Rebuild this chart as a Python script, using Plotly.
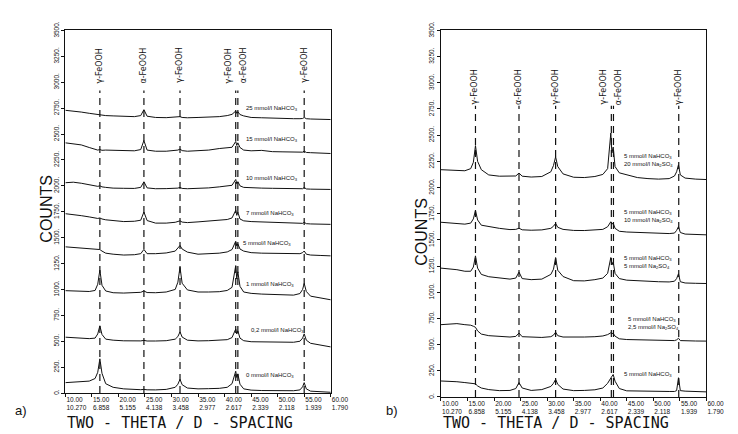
import plotly.graph_objects as go

# ---------------- data ----------------
xticks = [10, 15, 20, 25, 30, 35, 40, 45, 50, 55, 60]
xticktext = ["10.00<br>10.270", "15.00<br>6.858", "20.00<br>5.155", "25.00<br>4.138",
             "30.00<br>3.458", "35.00<br>2.977", "40.00<br>2.617", "45.00<br>2.339",
             "50.00<br>2.118", "55.00<br>1.939", "60.00<br>1.790"]
yticks = [0, 250, 500, 750, 1000, 1250, 1500, 1750, 2000, 2250, 2500, 2750, 3000, 3250, 3500]
yticktext = ["0.", "250.", "500.", "750.", "1000.", "1250.", "1500.", "1750.", "2000.",
             "2250.", "2500.", "2750.", "3000.", "3250.", "3500."]

# panel a: two-theta grid and patterns
tt_a = [10, 11.5, 13, 14.5, 15.6, 16.1, 16.5, 16.9, 17.6, 19, 21, 23, 24.2, 24.8, 25.4, 27, 29,
        30.7, 31.2, 31.6, 32.0, 33, 35, 37, 39, 40.5, 41.4, 42.1, 42.3, 42.5, 42.9, 43.6, 45,
        47, 49, 51, 53, 54.2, 54.7, 55.0, 55.4, 56.2, 58, 60]
a_25 = [2729, 2722, 2712, 2700, 2690, 2685, 2688, 2682, 2678, 2675, 2672, 2668, 2678, 2735, 2672,
        2660, 2658, 2660, 2662, 2668, 2660, 2657, 2660, 2662, 2668, 2678, 2690, 2722, 2700, 2715,
        2688, 2675, 2660, 2657, 2652, 2650, 2648, 2648, 2650, 2660, 2648, 2645, 2642, 2640]
a_15 = [2415, 2405, 2395, 2370, 2350, 2345, 2350, 2343, 2345, 2345, 2342, 2338, 2350, 2437, 2345,
        2334, 2334, 2338, 2345, 2355, 2340, 2334, 2338, 2345, 2360, 2365, 2372, 2428, 2390, 2415,
        2370, 2345, 2338, 2342, 2330, 2328, 2325, 2322, 2325, 2335, 2322, 2320, 2315, 2312]
a_10 = [2030, 2035, 2025, 2010, 2000, 1995, 2000, 1990, 1985, 1978, 1976, 1975, 1985, 2039, 1980,
        1972, 1973, 1975, 1978, 1985, 1975, 1972, 1975, 1980, 1990, 1995, 2005, 2061, 2020, 2040,
        2000, 1985, 1980, 1978, 1976, 1975, 1972, 1970, 1972, 1985, 1970, 1968, 1967, 1965]
a_7 = [1731, 1725, 1712, 1700, 1690, 1685, 1690, 1680, 1672, 1662, 1655, 1658, 1668, 1747, 1665,
       1640, 1640, 1648, 1652, 1662, 1650, 1645, 1652, 1662, 1668, 1675, 1690, 1763, 1715, 1745,
       1680, 1662, 1655, 1652, 1645, 1640, 1637, 1635, 1638, 1648, 1635, 1632, 1630, 1628]
a_5 = [1411, 1405, 1400, 1398, 1395, 1392, 1385, 1370, 1350, 1340, 1332, 1335, 1345, 1386, 1345,
       1345, 1352, 1370, 1395, 1424, 1390, 1360, 1340, 1342, 1350, 1362, 1385, 1465, 1420, 1440,
       1390, 1370, 1355, 1350, 1348, 1345, 1342, 1345, 1355, 1371, 1340, 1332, 1328, 1324]
a_1 = [988, 985, 982, 980, 990, 1050, 1186, 1040, 985, 968, 965, 968, 972, 985, 970,
       968, 975, 1000, 1070, 1214, 1060, 995, 975, 975, 978, 990, 1020, 1230, 1100, 1170,
       1030, 975, 962, 955, 950, 945, 945, 960, 1000, 1057, 980, 935, 915, 900]
a_02 = [539, 535, 530, 525, 530, 570, 649, 565, 520, 510, 504, 502, 503, 508, 502,
        502, 505, 520, 545, 590, 540, 510, 503, 505, 508, 515, 535, 618, 570, 600,
        530, 505, 495, 492, 492, 490, 490, 500, 530, 571, 510, 480, 460, 445]
a_0 = [100, 105, 110, 115, 140, 200, 330, 190, 90, 55, 40, 33, 32, 35, 31,
       30, 35, 55, 85, 132, 80, 48, 40, 42, 45, 55, 90, 210, 150, 185,
       85, 40, 28, 24, 22, 22, 22, 30, 60, 100, 40, 18, 12, 7]
labels_a = ["25 mmol/l NaHCO<sub>3</sub>", "15 mmol/l NaHCO<sub>3</sub>", "10 mmol/l NaHCO<sub>3</sub>",
            "7 mmol/l NaHCO<sub>3</sub>", "5 mmol/l NaHCO<sub>3</sub>", "1 mmol/l NaHCO<sub>3</sub>",
            "0,2 mmol/l NaHCO<sub>3</sub>", "0 mmol/l NaHCO<sub>3</sub>"]
label_a_x = [43.6, 43.6, 43.6, 43.6, 43.1, 43.6, 44.6, 43.6]
label_a_y = [2748, 2447, 2070, 1731, 1440, 1045, 602, 170]

# panel b
tt_b = [10, 11.5, 13, 14.5, 15.6, 16.1, 16.5, 16.9, 17.6, 19, 21, 23, 24.1, 24.7, 25.3, 27, 29,
        30.7, 31.2, 31.6, 32.0, 33, 35, 37, 39, 40.5, 41.4, 42.0, 42.2, 42.45, 42.8, 43.6, 45,
        47, 49, 51, 53, 54.0, 54.4, 54.75, 55.1, 56, 58, 60]
b_20 = [2170, 2168, 2165, 2160, 2180, 2240, 2400, 2250, 2170, 2120, 2108, 2105, 2110, 2138, 2108,
        2100, 2105, 2150, 2210, 2293, 2200, 2130, 2098, 2095, 2105, 2125, 2180, 2520, 2330, 2386,
        2200, 2140, 2120, 2095, 2085, 2080, 2085, 2110, 2150, 2216, 2120, 2090, 2080, 2076]
b_10 = [1668, 1660, 1655, 1650, 1660, 1700, 1781, 1690, 1640, 1626, 1610, 1598, 1600, 1611, 1596,
        1592, 1595, 1610, 1630, 1657, 1620, 1600, 1590, 1589, 1592, 1600, 1625, 1673, 1650, 1660,
        1610, 1582, 1575, 1570, 1565, 1562, 1560, 1565, 1590, 1626, 1570, 1555, 1550, 1548]
b_5 = [1230, 1225, 1215, 1200, 1200, 1240, 1347, 1230, 1170, 1148, 1140, 1125, 1135, 1192, 1130,
       1120, 1125, 1170, 1220, 1331, 1210, 1150, 1110, 1108, 1120, 1135, 1180, 1331, 1260, 1290,
       1180, 1130, 1115, 1108, 1102, 1100, 1098, 1105, 1130, 1176, 1100, 1088, 1085, 1083]
b_25 = [690, 695, 700, 690, 685, 675, 665, 630, 600, 585, 575, 572, 578, 610, 575,
        570, 568, 575, 590, 618, 585, 572, 570, 572, 575, 582, 595, 612, 605, 608,
        580, 555, 548, 545, 542, 540, 538, 538, 545, 560, 538, 535, 534, 533]
b_0 = [152, 150, 145, 137, 130, 128, 125, 105, 85, 70, 60, 62, 80, 137, 85,
       62, 70, 100, 130, 168, 120, 75, 60, 62, 68, 85, 130, 180, 195, 214,
       150, 80, 58, 55, 55, 52, 52, 52, 60, 183, 60, 55, 50, 48]
labels_b = ["5 mmol/l NaHCO<sub>3</sub><br>20 mmol/l Na<sub>2</sub>SO<sub>4</sub>",
            "5 mmol/l NaHCO<sub>3</sub><br>10 mmol/l Na<sub>2</sub>SO<sub>4</sub>",
            "5 mmol/l NaHCO<sub>3</sub><br>5 mmol/l Na<sub>2</sub>SO<sub>4</sub>",
            "5 mmol/l NaHCO<sub>3</sub><br>2,5 mmol/l Na<sub>2</sub>SO<sub>4</sub>",
            "5 mmol/l NaHCO<sub>3</sub>"]
label_b_x = [44.2, 44.2, 44.2, 44.9, 44.2]
label_b_y = [2262, 1725, 1285, 703, 214]

# reference phase lines
phase_names = ["γ-FeOOH", "α-FeOOH", "γ-FeOOH", "γ-FeOOH", "α-FeOOH", "γ-FeOOH"]
lines_a = [16.5, 24.8, 31.6, 42.1, 42.5, 55.0]
lines_b = [16.5, 24.7, 31.6, 42.1, 42.5, 54.8]
phase_label_a_x = [16.5, 24.8, 31.6, 40.8, 43.6, 55.0]
phase_label_b_x = [16.5, 24.7, 31.6, 40.8, 43.6, 54.8]
line_top_a, line_top_b = 2920, 2780
phase_label_a_y, phase_label_b_y = 3160, 2960

# ---------------- figure ----------------
W, H = 738, 434
fig = go.Figure()
blk = "#111"

for ys in [a_25, a_15, a_10, a_7, a_5, a_1, a_02, a_0]:
    fig.add_trace(go.Scatter(x=tt_a, y=ys, mode="lines", line=dict(color=blk, width=1),
                             xaxis="x", yaxis="y", showlegend=False, hoverinfo="skip"))
for ys in [b_20, b_10, b_5, b_25, b_0]:
    fig.add_trace(go.Scatter(x=tt_b, y=ys, mode="lines", line=dict(color=blk, width=1),
                             xaxis="x2", yaxis="y2", showlegend=False, hoverinfo="skip"))

for p in lines_a:
    fig.add_trace(go.Scatter(x=[p, p], y=[0, line_top_a], mode="lines",
                             line=dict(color=blk, width=1.2, dash="7px,5px"),
                             xaxis="x", yaxis="y", showlegend=False, hoverinfo="skip"))
for p in lines_b:
    fig.add_trace(go.Scatter(x=[p, p], y=[0, line_top_b], mode="lines",
                             line=dict(color=blk, width=1.2, dash="7px,5px"),
                             xaxis="x2", yaxis="y2", showlegend=False, hoverinfo="skip"))

ann = []
small = dict(family="Liberation Sans Narrow, Liberation Sans, DejaVu Sans", size=6, color=blk)
for t, x, y in zip(labels_a, label_a_x, label_a_y):
    ann.append(dict(text=t, x=x, y=y, xref="x", yref="y", xanchor="left", yanchor="middle",
                    showarrow=False, font=small, align="left"))
for t, x, y in zip(labels_b, label_b_x, label_b_y):
    ann.append(dict(text=t, x=x, y=y, xref="x2", yref="y2", xanchor="left", yanchor="middle",
                    showarrow=False, font=small, align="left"))
ph_font = dict(family="DejaVu Sans, Liberation Sans", size=8, color=blk)
for t, x in zip(phase_names, phase_label_a_x):
    ann.append(dict(text=t, x=x, y=phase_label_a_y, xref="x", yref="y", textangle=-90,
                    xanchor="center", yanchor="middle", showarrow=False, font=ph_font))
for t, x in zip(phase_names, phase_label_b_x):
    ann.append(dict(text=t, x=x, y=phase_label_b_y, xref="x2", yref="y2", textangle=-90,
                    xanchor="center", yanchor="middle", showarrow=False, font=ph_font))

title_font = dict(family="DejaVu Sans Mono", size=15, color=blk)
for cx in [184, 570]:
    ann.append(dict(text="TWO - THETA / D - SPACING", x=cx / W, y=-1 / H, xref="paper",
                    yref="paper", xanchor="center", yanchor="bottom", showarrow=False,
                    font=title_font, borderpad=0))
counts_font = dict(family="Liberation Sans Narrow, Liberation Sans", size=16, color=blk)
for cx, cy in [(48, 205), (432, 228)]:
    ann.append(dict(text="COUNTS", x=cx / W, y=1 - cy / H, xref="paper", yref="paper", textangle=-90,
                    xanchor="center", yanchor="middle", showarrow=False, font=counts_font))
pl_font = dict(family="Liberation Sans, Arial", size=13, color=blk)
for t, cx in [("a)", 22), ("b)", 402)]:
    ann.append(dict(text=t, x=cx / W, y=1 - 412 / H, xref="paper", yref="paper", xanchor="center",
                    yanchor="middle", showarrow=False, font=pl_font))

tick_font = dict(family="Liberation Sans Narrow, Liberation Sans, DejaVu Sans", size=6.5, color=blk)
xax = dict(range=[10, 60], tickvals=xticks, ticktext=xticktext, ticks="outside", ticklen=3,
           showline=True, linecolor=blk, linewidth=1.2, mirror=True, showgrid=False, zeroline=False,
           tickfont=tick_font, ticklabelposition="outside right", tickcolor=blk, tickangle=0)
yax = dict(range=[0, 3500], tickvals=yticks, ticktext=yticktext, ticks="outside", ticklen=3,
           showline=True, linecolor=blk, linewidth=1.2, mirror=True, showgrid=False, zeroline=False,
           tickfont=tick_font, tickangle=-90, tickcolor=blk)

fig.update_layout(
    width=W, height=H, margin=dict(l=0, r=0, t=0, b=0),
    paper_bgcolor="white", plot_bgcolor="white",
    xaxis=dict(xax, domain=[67 / W, 339 / W], anchor="y"),
    yaxis=dict(yax, domain=[1 - 394 / H, 1 - 22 / H], anchor="x"),
    xaxis2=dict(xax, domain=[452 / W, 724 / W], anchor="y2"),
    yaxis2=dict(yax, domain=[1 - 398 / H, 1 - 22 / H], anchor="x2"),
    annotations=ann,
)
fig.write_html("out.html", config={"displayModeBar": False},
               post_script="document.body.style.margin='0';")
